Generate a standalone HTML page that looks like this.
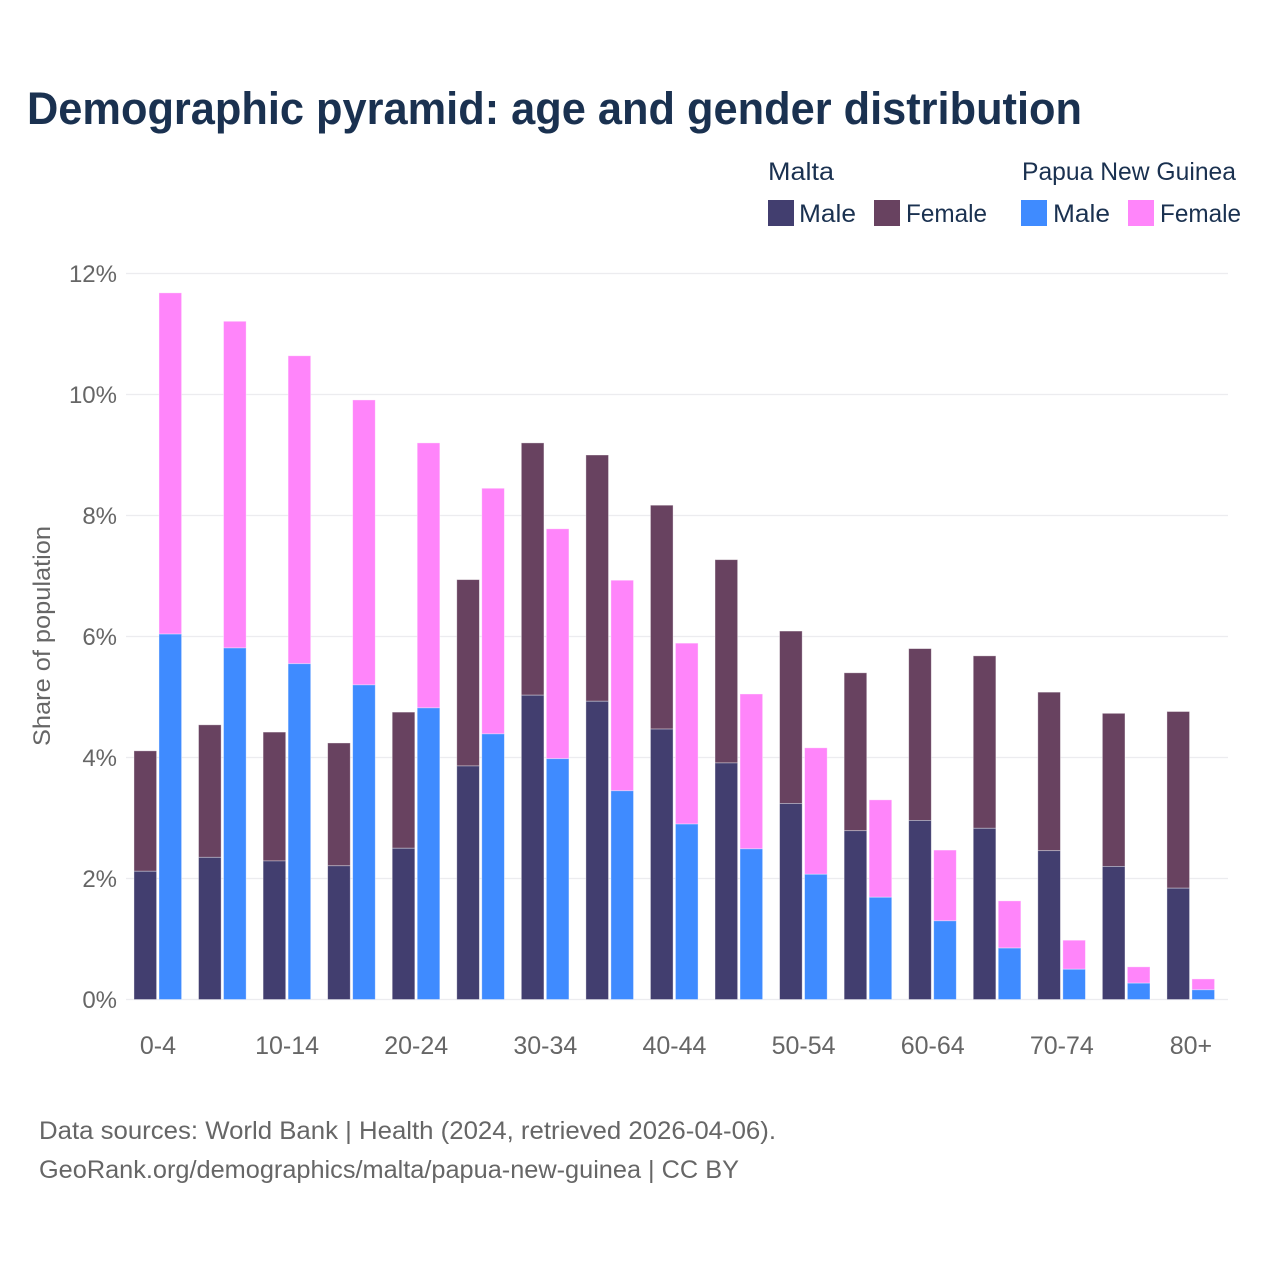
<!DOCTYPE html>
<html lang="en">
<head>
<meta charset="utf-8">
<title>Demographic pyramid</title>
<style>
html,body{margin:0;padding:0;background:#fff;}
svg{display:block;font-family:"Liberation Sans",sans-serif;}
</style>
</head>
<body>
<svg id="chart" xmlns="http://www.w3.org/2000/svg" width="1280" height="1280" viewBox="0 0 1280 1280">
  <rect width="1280" height="1280" fill="#ffffff"/>
  <text x="27" y="124" font-size="45" font-weight="700" fill="#1a3150" textLength="1055" lengthAdjust="spacingAndGlyphs">Demographic pyramid: age and gender distribution</text>

  <g font-size="25" fill="#1a3150">
    <text x="768" y="180" textLength="66" lengthAdjust="spacingAndGlyphs">Malta</text>
    <text x="1022" y="180" textLength="214" lengthAdjust="spacingAndGlyphs">Papua New Guinea</text>
    <rect x="768" y="200" width="26" height="26" fill="#423e6f"/>
    <text x="799" y="222" textLength="57" lengthAdjust="spacingAndGlyphs">Male</text>
    <rect x="874" y="200" width="26" height="26" fill="#684260"/>
    <text x="906" y="222" textLength="81" lengthAdjust="spacingAndGlyphs">Female</text>
    <rect x="1021" y="200" width="26" height="26" fill="#3f8bff"/>
    <text x="1053" y="222" textLength="57" lengthAdjust="spacingAndGlyphs">Male</text>
    <rect x="1128" y="200" width="26" height="26" fill="#ff85fa"/>
    <text x="1160" y="222" textLength="81" lengthAdjust="spacingAndGlyphs">Female</text>
  </g>

  <g id="grid"></g>
  <g id="y-axis"></g>
  <g id="bars"></g>
  <g id="x-axis"></g>

  <text transform="translate(50,636) rotate(-90)" text-anchor="middle" font-size="24" fill="#666666" textLength="220" lengthAdjust="spacingAndGlyphs">Share of population</text>

  <g font-size="25" fill="#666666">
    <text x="39" y="1139" textLength="737" lengthAdjust="spacingAndGlyphs">Data sources: World Bank | Health (2024, retrieved 2026-04-06).</text>
    <text x="39" y="1178" textLength="700" lengthAdjust="spacingAndGlyphs">GeoRank.org/demographics/malta/papua-new-guinea | CC BY</text>
  </g>
</svg>
<script>
const categories = ["0-4","5-9","10-14","15-19","20-24","25-29","30-34","35-39","40-44","45-49","50-54","55-59","60-64","65-69","70-74","75-79","80+"];
const maltaMale = [2.12,2.35,2.29,2.21,2.50,3.86,5.03,4.93,4.47,3.91,3.24,2.79,2.96,2.83,2.46,2.20,1.84];
const maltaFemale = [1.99,2.19,2.13,2.03,2.25,3.08,4.17,4.07,3.70,3.36,2.85,2.61,2.84,2.85,2.62,2.53,2.92];
const pngMale = [6.04,5.81,5.55,5.20,4.82,4.39,3.98,3.45,2.90,2.49,2.07,1.69,1.30,0.85,0.50,0.27,0.16];
const pngFemale = [5.64,5.40,5.09,4.71,4.38,4.06,3.80,3.48,2.99,2.56,2.09,1.61,1.17,0.78,0.48,0.27,0.18];
const yTicks = [0,2,4,6,8,10,12];

const NS = "http://www.w3.org/2000/svg";
const y0 = 999.5, pxPerUnit = 60.5, bandStart = 125.7, bandStep = 64.56;
const yScale = function (v) { return y0 - v * pxPerUnit; };
const xCenter = function (i) { return bandStart + bandStep * (i + 0.5); };

function make(tag, attrs, parent) {
  const el = document.createElementNS(NS, tag);
  for (const k in attrs) el.setAttribute(k, attrs[k]);
  parent.appendChild(el);
  return el;
}

const grid = document.getElementById("grid");
const yAxis = document.getElementById("y-axis");
yTicks.forEach(function (t) {
  const line = make("line", { x1: 126, x2: 1228, y1: yScale(t), y2: yScale(t), stroke: "#ececef", "stroke-width": 1.2 }, grid);
  
  
  const label = make("text", { x: 117, y: yScale(t) + 8.5, "text-anchor": "end", "font-size": 24, fill: "#666666" }, yAxis);
  
  
  label.textContent = t + "%";
});

const bars = document.getElementById("bars");
function bar(x, base, value, fill, name) {
  const r = make("rect", {
    x: x, y: yScale(base + value), width: 22.6, height: value * pxPerUnit,
    fill: fill, stroke: "#ffffff", "stroke-opacity": 0.45, "stroke-width": 0.8
  }, bars);
  
  
}
categories.forEach(function (c, i) {
  const cx = xCenter(i);
  bar(cx - 24, maltaMale[i], maltaFemale[i], "#684260", "bar-malta-female");
  bar(cx - 24, 0, maltaMale[i], "#423e6f", "bar-malta-male");
  bar(cx + 1, pngMale[i], pngFemale[i], "#ff85fa", "bar-png-female");
  bar(cx + 1, 0, pngMale[i], "#3f8bff", "bar-png-male");
});

const xAxis = document.getElementById("x-axis");
categories.forEach(function (c, i) {
  if (i % 2 !== 0) return;
  const label = make("text", { x: xCenter(i), y: 1054, "text-anchor": "middle", "font-size": 25, fill: "#666666" }, xAxis);
  
  
  label.textContent = c;
});
</script>
</body>
</html>
